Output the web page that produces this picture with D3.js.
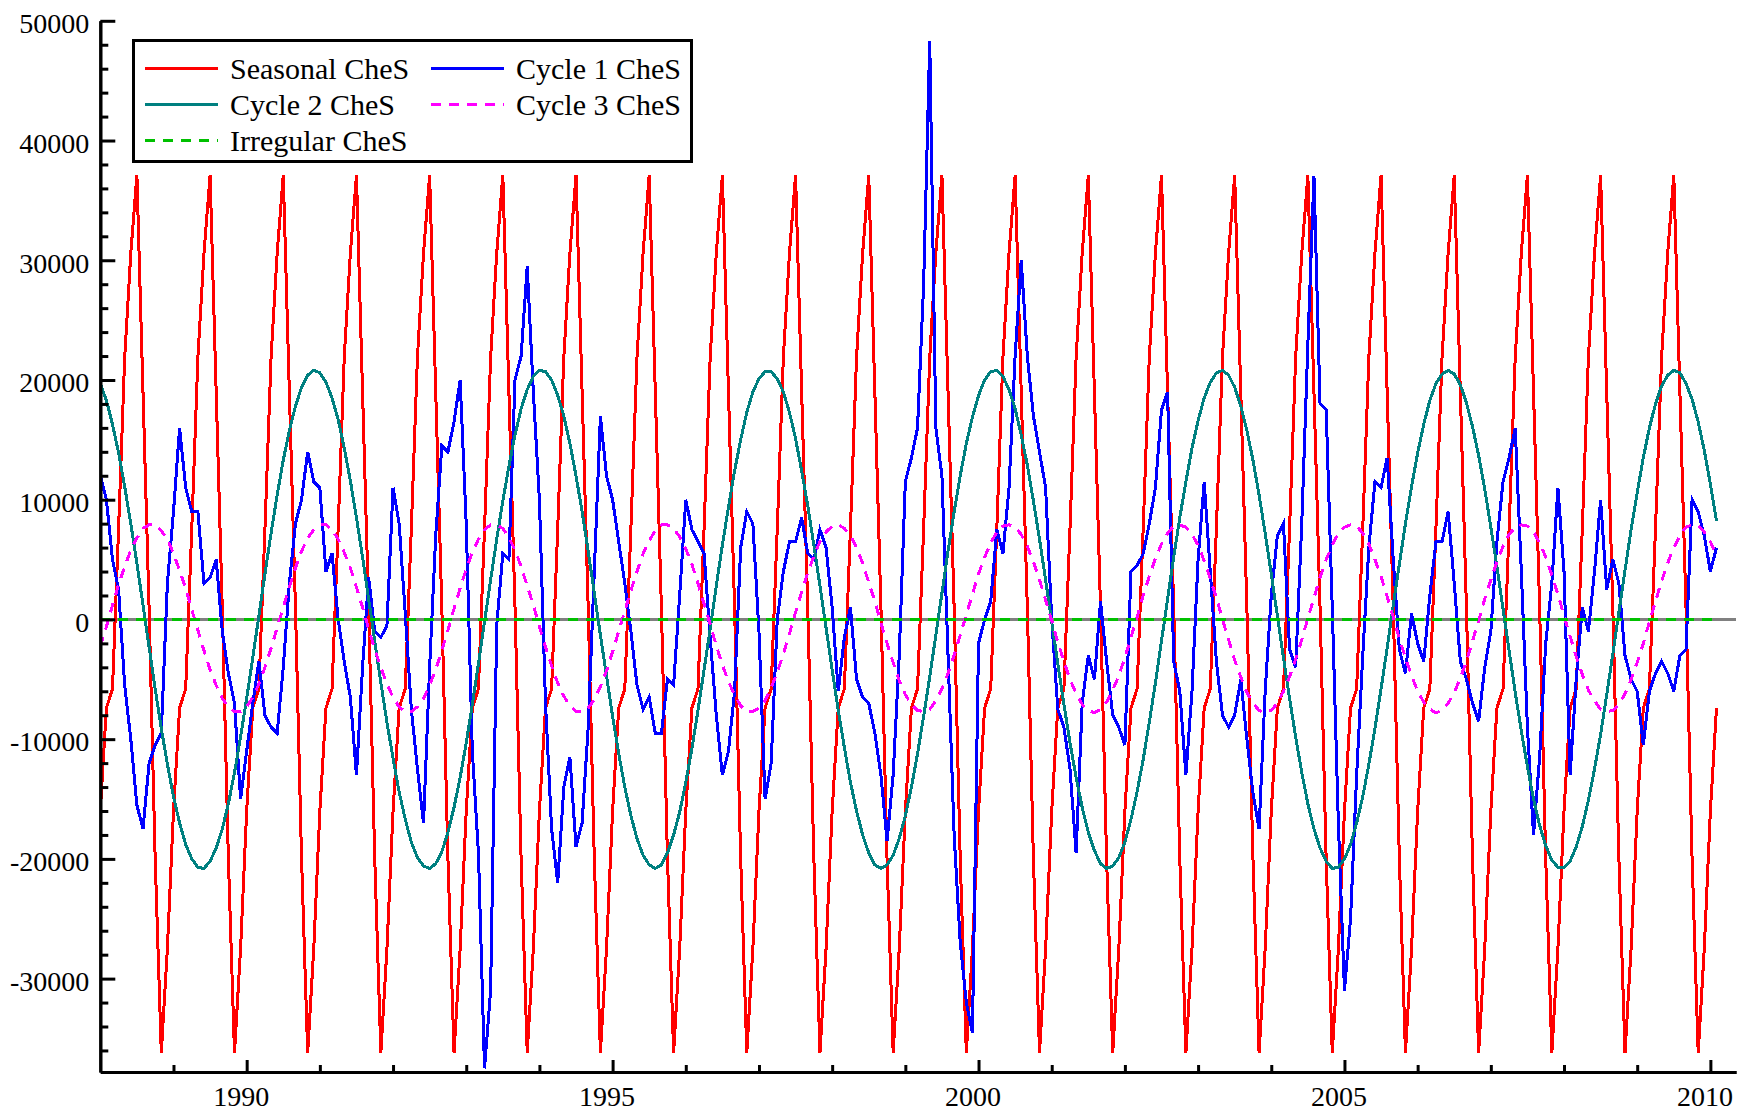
<!DOCTYPE html>
<html><head><meta charset="utf-8">
<script src="https://cdn.jsdelivr.net/npm/d3@7"></script>
<style>
html,body{margin:0;padding:0;background:#fff;}
svg{display:block;}
</style></head><body>
<svg id="chart" width="1747" height="1113"></svg>
<script>
// ---- DATA (monthly, Jan 1988 .. Feb 2010) ----
const startYear = 1988;
const yTickLabels = [-30000, -20000, -10000, 0, 10000, 20000, 30000, 40000, 50000];
const xTickLabels = [1990, 1995, 2000, 2005, 2010];
const seriesNames = ["Seasonal CheS", "Cycle 1 CheS", "Cycle 2 CheS", "Cycle 3 CheS", "Irregular CheS"];

const seasonal = [
-16000,-7400,-5800,7600,21900,30600,37100,19000,1000,-20000,-36200,-27500,
-16000,-7400,-5800,7600,21900,30600,37100,19000,1000,-20000,-36200,-27500,
-16000,-7400,-5800,7600,21900,30600,37100,19000,1000,-20000,-36200,-27500,
-16000,-7400,-5800,7600,21900,30600,37100,19000,1000,-20000,-36200,-27500,
-16000,-7400,-5800,7600,21900,30600,37100,19000,1000,-20000,-36200,-27500,
-16000,-7400,-5800,7600,21900,30600,37100,19000,1000,-20000,-36200,-27500,
-16000,-7400,-5800,7600,21900,30600,37100,19000,1000,-20000,-36200,-27500,
-16000,-7400,-5800,7600,21900,30600,37100,19000,1000,-20000,-36200,-27500,
-16000,-7400,-5800,7600,21900,30600,37100,19000,1000,-20000,-36200,-27500,
-16000,-7400,-5800,7600,21900,30600,37100,19000,1000,-20000,-36200,-27500,
-16000,-7400,-5800,7600,21900,30600,37100,19000,1000,-20000,-36200,-27500,
-16000,-7400,-5800,7600,21900,30600,37100,19000,1000,-20000,-36200,-27500,
-16000,-7400,-5800,7600,21900,30600,37100,19000,1000,-20000,-36200,-27500,
-16000,-7400,-5800,7600,21900,30600,37100,19000,1000,-20000,-36200,-27500,
-16000,-7400,-5800,7600,21900,30600,37100,19000,1000,-20000,-36200,-27500,
-16000,-7400,-5800,7600,21900,30600,37100,19000,1000,-20000,-36200,-27500,
-16000,-7400,-5800,7600,21900,30600,37100,19000,1000,-20000,-36200,-27500,
-16000,-7400,-5800,7600,21900,30600,37100,19000,1000,-20000,-36200,-27500,
-16000,-7400,-5800,7600,21900,30600,37100,19000,1000,-20000,-36200,-27500,
-16000,-7400,-5800,7600,21900,30600,37100,19000,1000,-20000,-36200,-27500,
-16000,-7400,-5800,7600,21900,30600,37100,19000,1000,-20000,-36200,-27500,
-16000,-7400,-5800,7600,21900,30600,37100,19000,1000,-20000,-36200,-27500,
-16000,-7400
];

const cycle1 = [
12000,10000,5000,2500,-5500,-10000,-15500,-17500,-12000,-10500,-9500,3000,
9000,16000,11000,9000,9000,3000,3500,5000,-1000,-4500,-7000,-15000,
-11000,-7000,-3500,-8000,-9000,-9500,-4000,3000,8000,10000,14000,11500,
11000,4000,5500,0,-3500,-6500,-13000,-4000,3500,-1000,-1500,-500,
11000,8000,500,-7500,-12500,-17000,-4000,7000,14500,14000,16500,20000,
8000,-11000,-19500,-37500,-31000,-500,5500,5000,20000,22000,29500,19000,
10000,-7000,-17500,-22000,-14000,-11500,-19000,-17000,-9000,4000,17000,12000,
10000,6500,3000,-1000,-5500,-7500,-6500,-9500,-9500,-5000,-5500,2000,
10000,7500,6500,5500,-1500,-8000,-13000,-11000,-6000,6000,9000,8000,
-1000,-15000,-12000,0,4000,6500,6500,8500,5500,5000,7500,6000,
1000,-6000,-1500,1000,-5000,-6500,-7000,-9500,-13000,-18500,-13000,-3000,
11500,13500,16000,28000,48300,16000,12000,-3000,-18000,-27000,-32000,-34500,
-2000,0,1500,7500,5500,11000,22000,30000,22000,17000,14000,11000,
0,-7500,-9000,-12500,-19500,-7000,-3000,-5000,1500,-3500,-8000,-9000,
-10500,4000,4500,5500,8000,11000,17500,19000,-3500,-6000,-13000,-6000,
5000,11500,4000,-3500,-8000,-9000,-8000,-5000,-10000,-14500,-17500,-6000,
2000,7000,8000,-2500,-4000,8000,23000,37000,18000,17500,1000,-17000,
-31000,-25000,-13000,-3000,6000,11500,11000,13500,5000,-2500,-4500,500,
-2000,-3500,2000,6500,6500,9000,3000,-3500,-5000,-7000,-8500,-4000,
-1000,6500,11500,13500,16000,4000,-9000,-18000,-11500,-2000,3000,11000,
4000,-13000,-5000,1000,-1000,4000,10000,2500,5000,3000,-3000,-5000,
-6000,-10500,-6000,-4500,-3500,-4500,-6000,-3000,-2500,10000,9000,7000,
4000,6000
];

const cycle2 = [
19700,18300,16300,13900,11100,8000,4700,1200,-2300,-5800,-9100,-12100,
-14800,-17000,-18800,-20000,-20700,-20800,-20200,-19100,-17500,-15400,-12800,-9800,
-6600,-3200,300,3800,7200,10400,13300,15800,17800,19400,20400,20800,
20600,19800,18500,16700,14300,11600,8500,5200,1700,-1800,-5300,-8600,
-11600,-14400,-16700,-18600,-19900,-20600,-20800,-20400,-19400,-17800,-15700,-13200,
-10300,-7100,-3700,-200,3300,6700,9900,12800,15400,17600,19200,20300,
20800,20700,20000,18700,17000,14700,12000,9000,5700,2200,-1300,-4700,
-8100,-11200,-14000,-16400,-18300,-19700,-20500,-20800,-20500,-19500,-18000,-16100,
-13600,-10800,-7600,-4200,-800,2800,6200,9400,12400,15000,17300,19000,
20100,20700,20700,20100,19000,17300,15100,12400,9500,6200,2800,-700,
-4200,-7600,-10700,-13600,-16000,-18000,-19500,-20500,-20800,-20500,-19700,-18300,
-16400,-14000,-11200,-8100,-4800,-1300,2200,5700,9000,12000,14700,16900,
18700,20000,20700,20800,20300,19200,17600,15400,12900,9900,6700,3300,
-200,-3700,-7100,-10300,-13200,-15700,-17800,-19300,-20400,-20800,-20600,-19900,
-18600,-16700,-14400,-11700,-8600,-5300,-1800,1700,5200,8500,11500,14300,
16600,18500,19800,20600,20800,20400,19400,17800,15800,13300,10400,7200,
3800,300,-3200,-6600,-9800,-12800,-15400,-17500,-19100,-20200,-20800,-20700,
-20000,-18800,-17000,-14800,-12100,-9100,-5800,-2400,1200,4600,8000,11100,
13900,16300,18300,19700,20500,20800,20500,19600,18100,16100,13700,10900,
7700,4400,900,-2600,-6100,-9300,-12300,-15000,-17200,-18900,-20100,-20700,
-20700,-20200,-19000,-17300,-15100,-12500,-9600,-6300,-2900,600,4100,7500,
10600,13500,16000,18000,19500,20400,20800,20600,19700,18400,16500,14100,
11300,8200
];

const cycle3 = [
-2300,-600,1200,2900,4400,5800,6800,7600,7900,7900,7400,6700,
5500,4100,2600,800,-900,-2600,-4200,-5500,-6600,-7300,-7700,-7700,
-7300,-6500,-5400,-4000,-2400,-700,1000,2700,4300,5700,6800,7500,
7900,7900,7500,6700,5600,4300,2700,1000,-800,-2500,-4000,-5400,
-6500,-7300,-7700,-7700,-7300,-6600,-5500,-4200,-2600,-900,900,2600,
4200,5600,6700,7500,7900,7900,7600,6800,5800,4400,2800,1200,
-600,-2300,-3900,-5300,-6400,-7200,-7700,-7700,-7400,-6700,-5600,-4300,
-2700,-1000,700,2400,4000,5500,6600,7400,7900,7900,7600,6900,
5900,4600,3000,1300,-400,-2200,-3800,-5200,-6300,-7200,-7700,-7700,
-7400,-6800,-5700,-4400,-2900,-1200,600,2300,3900,5300,6500,7300,
7800,7900,7600,7000,6000,4700,3100,1500,-300,-2000,-3600,-5100,
-6300,-7100,-7600,-7700,-7500,-6800,-5800,-4500,-3000,-1300,400,2100,
3800,5200,6400,7300,7800,7900,7700,7100,6100,4800,3300,1600,
-100,-1900,-3500,-5000,-6200,-7100,-7600,-7800,-7500,-6900,-5900,-4700,
-3200,-1500,200,2000,3600,5100,6300,7200,7800,7900,7700,7100,
6200,4900,3400,1800,0,-1700,-3400,-4800,-6100,-7000,-7600,-7800,
-7600,-7000,-6000,-4800,-3300,-1700,100,1800,3500,5000,6200,7200,
7700,7900,7800,7200,6300,5000,3600,1900,200,-1600,-3200,-4700,
-6000,-6900,-7500,-7800,-7600,-7000,-6100,-4900,-3500,-1800,-100,1700,
3300,4800,6100,7100,7700,7900,7800,7300,6400,5200,3700,2100,
300,-1400,-3100,-4600,-5900,-6800,-7500,-7700,-7600,-7100,-6200,-5000,
-3600,-2000,-200,1500,3200,4700,6000,7000,7700,7900,7800,7300,
6500,5300
];

const irregular = [
0,0,0,0,0,0,0,0,0,0,0,0, 0,0,0,0,0,0,0,0,0,0,0,0,
0,0,0,0,0,0,0,0,0,0,0,0, 0,0,0,0,0,0,0,0,0,0,0,0,
0,0,0,0,0,0,0,0,0,0,0,0, 0,0,0,0,0,0,0,0,0,0,0,0,
0,0,0,0,0,0,0,0,0,0,0,0, 0,0,0,0,0,0,0,0,0,0,0,0,
0,0,0,0,0,0,0,0,0,0,0,0, 0,0,0,0,0,0,0,0,0,0,0,0,
0,0,0,0,0,0,0,0,0,0,0,0, 0,0,0,0,0,0,0,0,0,0,0,0,
0,0,0,0,0,0,0,0,0,0,0,0, 0,0,0,0,0,0,0,0,0,0,0,0,
0,0,0,0,0,0,0,0,0,0,0,0, 0,0,0,0,0,0,0,0,0,0,0,0,
0,0,0,0,0,0,0,0,0,0,0,0, 0,0,0,0,0,0,0,0,0,0,0,0,
0,0,0,0,0,0,0,0,0,0,0,0, 0,0,0,0,0,0,0,0,0,0,0,0,
0,0,0,0,0,0,0,0,0,0,0,0, 0,0,0,0,0,0,0,0,0,0,0,0,
0,0
];

// ---- LAYOUT / STYLE ----
const W = 1747, H = 1113;
const plot = {left: 100.3, right: 1736, top: 20.8, bottom: 1072};
const xDomain = [1988, 2010.35];
const yDomain = [-37800, 50000];
const FONT = '"Liberation Serif","DejaVu Serif",serif';

const styles = [
  {color: '#ff0000', dash: null},
  {color: '#0000ff', dash: null},
  {color: '#008080', dash: null},
  {color: '#ff00ff', dash: '10,8'},
  {color: '#00c000', dash: '10,8'}
];
const seriesData = [seasonal, cycle1, cycle2, cycle3, irregular];

const svg = d3.select('#chart');
svg.append('rect').attr('width', W).attr('height', H).attr('fill', '#fff');

const x = d3.scaleLinear().domain(xDomain).range([plot.left, plot.right]);
const y = d3.scaleLinear().domain(yDomain).range([plot.bottom, plot.top]);

svg.append('defs').append('clipPath').attr('id', 'clip')
  .append('rect').attr('x', plot.left).attr('y', plot.top)
  .attr('width', plot.right - plot.left).attr('height', plot.bottom - plot.top);

const g = svg.append('g').attr('clip-path', 'url(#clip)');

// zero reference line
g.append('line')
  .attr('x1', x(xDomain[0])).attr('x2', x(xDomain[1]))
  .attr('y1', y(0)).attr('y2', y(0))
  .attr('stroke', '#808080').attr('stroke-width', 3);

const line = d3.line()
  .x((d, i) => x(startYear + i / 12))
  .y(d => y(d));

seriesData.forEach((data, k) => {
  const p = g.append('path')
    .datum(data)
    .attr('d', line)
    .attr('fill', 'none')
    .attr('stroke', styles[k].color)
    .attr('stroke-width', 3)
    .attr('shape-rendering', 'crispEdges')
    .attr('stroke-linejoin', 'miter');
  if (styles[k].dash) p.attr('stroke-dasharray', styles[k].dash);
});

// ---- AXES ----
function styleAxis(sel) {
  sel.attr('font-family', FONT).attr('font-size', 28);
  sel.selectAll('path.domain').attr('stroke', '#000').attr('stroke-width', 3);
  sel.selectAll('line').attr('stroke', '#000').attr('stroke-width', 3);
  sel.selectAll('text').attr('fill', '#000');
}

const yMinor = d3.range(-36000, 50001, 2000).filter(v => v % 10000 !== 0);
svg.append('g').attr('transform', `translate(${plot.left},0)`)
  .call(d3.axisLeft(y).tickValues(yMinor).tickSize(-8).tickSizeOuter(0).tickFormat(''))
  .call(styleAxis);
const yAx = svg.append('g').attr('transform', `translate(${plot.left},0)`)
  .call(d3.axisLeft(y).tickValues(yTickLabels).tickSize(-15).tickSizeOuter(0).tickPadding(11)
    .tickFormat(d => String(d)))
  .call(styleAxis);
yAx.selectAll('text').attr('dy', '0.42em');

const xMinor = d3.range(1989, 2011, 1).filter(v => v % 5 !== 0);
svg.append('g').attr('transform', `translate(0,${plot.bottom})`)
  .call(d3.axisBottom(x).tickValues(xMinor).tickSize(-7).tickSizeOuter(0).tickFormat(''))
  .call(styleAxis);
const xAx = svg.append('g').attr('transform', `translate(0,${plot.bottom})`)
  .call(d3.axisBottom(x).tickValues(xTickLabels).tickSize(-12).tickSizeOuter(0).tickPadding(14)
    .tickFormat(d => String(d)))
  .call(styleAxis);
xAx.selectAll('text').attr('transform', 'translate(-6,0)');

// ---- LEGEND ----
const legend = svg.append('g');
legend.append('rect')
  .attr('x', 133.5).attr('y', 40.5).attr('width', 558).attr('height', 121)
  .attr('fill', '#fff').attr('stroke', '#000').attr('stroke-width', 3);
const colX = [145, 431];
const rowY = [68.5, 104.5, 140.5];
seriesNames.forEach((name, k) => {
  const cx = colX[k % 2], cy = rowY[Math.floor(k / 2)];
  const l = legend.append('line')
    .attr('x1', cx).attr('x2', cx + 73).attr('y1', cy).attr('y2', cy)
    .attr('stroke', styles[k].color).attr('stroke-width', 3);
  if (styles[k].dash) l.attr('stroke-dasharray', styles[k].dash);
  legend.append('text')
    .attr('x', cx + 85).attr('y', cy + 10)
    .attr('font-family', FONT).attr('font-size', 30).attr('fill', '#000')
    .text(name);
});
</script>
</body></html>
